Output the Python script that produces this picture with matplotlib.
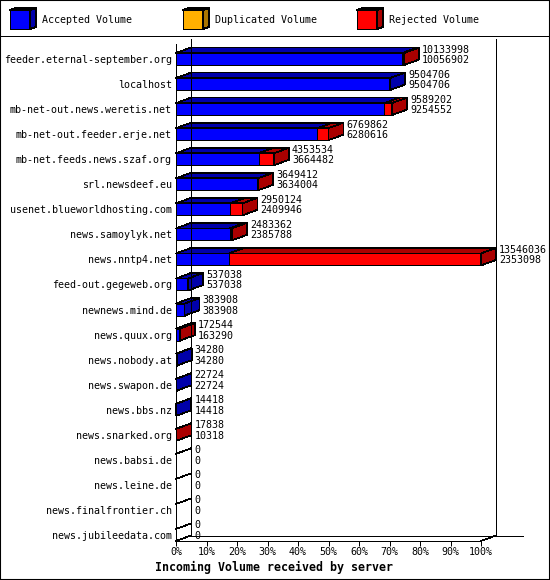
import numpy as np
import matplotlib
matplotlib.use("Agg")
import matplotlib.pyplot as plt
from matplotlib.patches import Polygon, Rectangle

# data (bytes per server)
servers = ["feeder.eternal-september.org", "localhost", "mb-net-out.news.weretis.net",
           "mb-net-out.feeder.erje.net", "mb-net.feeds.news.szaf.org", "srl.newsdeef.eu",
           "usenet.blueworldhosting.com", "news.samoylyk.net", "news.nntp4.net",
           "feed-out.gegeweb.org", "newnews.mind.de", "news.quux.org", "news.nobody.at",
           "news.swapon.de", "news.bbs.nz", "news.snarked.org", "news.babsi.de",
           "news.leine.de", "news.finalfrontier.ch", "news.jubileedata.com"]
total = [10133998, 9504706, 9589202, 6769862, 4353534, 3649412, 2950124, 2483362,
         13546036, 537038, 383908, 172544, 34280, 22724, 14418, 17838, 0, 0, 0, 0]
accepted = [10056902, 9504706, 9254552, 6280616, 3664482, 3634004, 2409946, 2385788,
            2353098, 537038, 383908, 163290, 34280, 22724, 14418, 10318, 0, 0, 0, 0]
duplicated = [0, 0, 0, 0, 0, 0, 0, 0, 0, 0, 0, 0, 0, 0, 0, 0, 0, 0, 0, 0]

legend_names = ["Accepted Volume", "Duplicated Volume", "Rejected Volume"]
front_colors = ["#0000ff", "#ffb000", "#ff0000"]
dark_colors = ["#0000aa", "#aa7500", "#aa0000"]

plt.rcParams['font.family'] = ['DejaVu Sans Mono']

W, H = 550, 580
fig = plt.figure(figsize=(W / 100, H / 100), dpi=100)

# main axes: front plane of the 3d box
ax_l, ax_r, ax_t, ax_b = 176, 481, 44, 541
ax = fig.add_axes([ax_l / W, (H - ax_b) / H, (ax_r - ax_l) / W, (ax_b - ax_t) / H])
ax.set_xlim(0, 100)
ymin, ymax = -0.6, 19.24
ax.set_ylim(ymax, ymin)

px_x = (ax_r - ax_l) / 100.0          # pixels per percent
px_y = (ax_b - ax_t) / (ymax - ymin)  # pixels per row
DX = 15 / px_x      # depth of the 3d effect
DY = 5.5 / px_y
HALF = 6 / px_y     # half bar height
LW = 0.5
PT = 0.72           # points per pixel

maxv = max(total)
acc_pct = np.array(accepted) / maxv * 100
dup_pct = np.array(duplicated) / maxv * 100
rej_pct = (np.array(total) - np.array(accepted) - np.array(duplicated)) / maxv * 100


def face(a, pts, col):
    a.add_patch(Polygon(pts, closed=True, facecolor=col, edgecolor="black",
                        lw=LW, clip_on=False, antialiased=False))


def line(a, xs, ys):
    a.plot(xs, ys, color="black", lw=LW, clip_on=False, antialiased=False)


def draw_bar(row, parts):
    top = row - HALF
    bot = row + HALF
    last = None
    for x0, x1, ci in parts:
        if x1 <= x0:
            continue
        face(ax, [(x0, top), (x1, top), (x1, bot), (x0, bot)], front_colors[ci])
        face(ax, [(x0, top), (x1, top), (x1 + DX, top - DY), (x0 + DX, top - DY)], dark_colors[ci])
        last = (x1, ci)
    if last is None:
        # empty row: only the top edge of the box
        line(ax, [0, DX], [top, top - DY])
        return 0
    x1, ci = last
    face(ax, [(x1, top), (x1 + DX, top - DY), (x1 + DX, bot - DY), (x1, bot)], dark_colors[ci])
    return x1


# back walls of the box
line(ax, [DX, DX], [ymin - DY, ymax - DY])
line(ax, [100 + DX, 100 + DX], [ymin - DY, ymax - DY])
line(ax, [DX, 100 + DX + 27 / px_x], [ymax - DY, ymax - DY])
line(ax, [0, DX], [ymax, ymax - DY])
line(ax, [100, 100 + DX], [ymax, ymax - DY])

for i in range(len(servers)):
    a = acc_pct[i]
    d = dup_pct[i]
    r = rej_pct[i]
    end = draw_bar(i, [(0, a, 0), (a, a + d, 1), (a + d, a + d + r, 2)])
    ax.annotate(str(total[i]), xy=(end + DX, i), xytext=(3 * PT, 9.5 * PT),
                textcoords="offset points", ha="left", va="center", fontsize=7.2,
                annotation_clip=False)
    ax.annotate(str(accepted[i]), xy=(end + DX, i), xytext=(3 * PT, -1 * PT),
                textcoords="offset points", ha="left", va="center", fontsize=7.2,
                annotation_clip=False)

for s in ["top", "right"]:
    ax.spines[s].set_visible(False)
ax.spines["left"].set_linewidth(0.72)
ax.spines["bottom"].set_linewidth(0.72)
ax.set_facecolor("none")

ticks = np.arange(0, 101, 10)
ax.set_xticks(ticks, [f"{t}%" for t in ticks])
ax.tick_params(axis="x", length=5 * PT, width=0.72, pad=1, labelsize=7.2)
ax.set_yticks(range(len(servers)), servers)
ax.tick_params(axis="y", length=0, pad=3, labelsize=7.2)

fig.text(155 / W, 1 - 567 / H, "Incoming Volume received by server",
         fontsize=8.4, fontweight="bold", ha="left", va="center")

# legend strip
leg = fig.add_axes([0, 1 - 36 / H, 1, 36 / H])
leg.set_xlim(0, W)
leg.set_ylim(36, 0)
leg.axis("off")
for x0, name, ci in zip([10, 183, 357], legend_names, range(3)):
    x1 = x0 + 20
    face(leg, [(x0, 10), (x1, 10), (x1, 29), (x0, 29)], front_colors[ci])
    face(leg, [(x0, 10), (x1, 10), (x1 + 6, 8), (x0 + 6, 8)], dark_colors[ci])
    face(leg, [(x1, 10), (x1 + 6, 8), (x1 + 6, 27), (x1, 29)], dark_colors[ci])
    leg.text(x0 + 32, 20, name, fontsize=7.2, ha="left", va="center")
line(leg, [0, W], [35.5, 35.5])

fig.add_artist(Rectangle((0, 0), 1, 1, transform=fig.transFigure, fill=False,
                         edgecolor="black", lw=1.5))

fig.savefig("out.png", dpi=100)
